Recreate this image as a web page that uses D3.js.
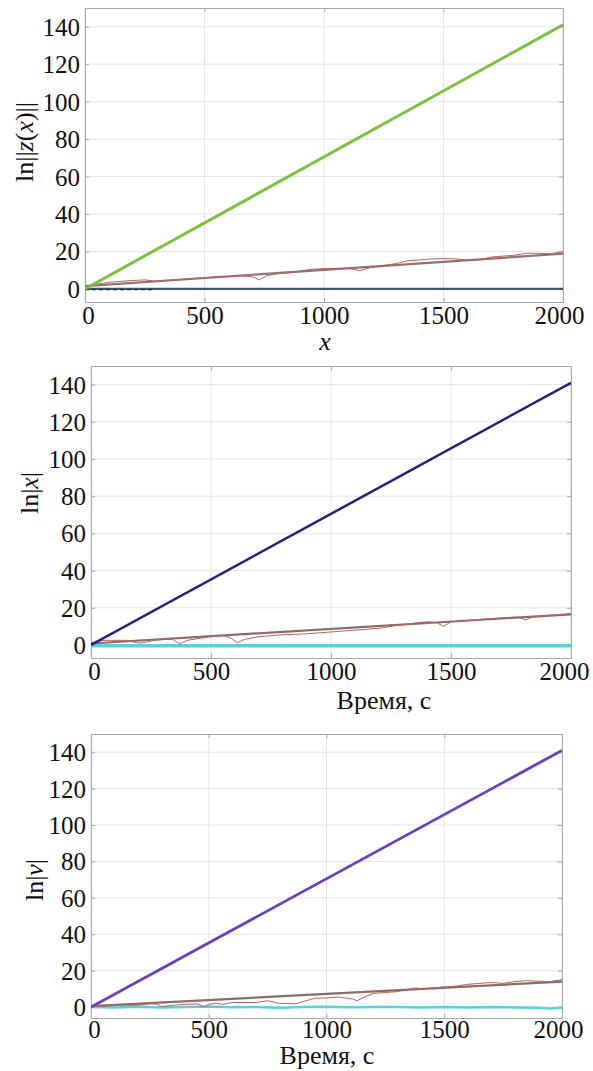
<!DOCTYPE html>
<html><head><meta charset="utf-8">
<script src="https://cdn.jsdelivr.net/npm/d3@7"></script>
<style>body{margin:0;background:#fff}svg{display:block}</style>
</head><body>
<svg id="c" width="593" height="1071"></svg>
<script>
// ---- data ----
const xTicks = [0, 500, 1000, 1500, 2000];
const yTicks = [0, 20, 40, 60, 80, 100, 120, 140];

// chart 1
const c1StraightT = [0, 2000];
const c1Green = [0, 141];
const c1Brown = [1.5, 18.8];
const c1Slate = [0, 0];
const c1DashT = [0, 290];
const c1Dash = [-0.4, -0.4];
const c1RedT = [0,50,100,150,200,250,300,350,400,450,500,550,600,650,700,730,760,800,850,900,950,1000,1050,1100,1150,1200,1250,1300,1350,1400,1450,1500,1550,1600,1650,1700,1750,1800,1850,1900,1950,2000];
const c1Red = [0.5,2.5,3.5,4,4.5,4.8,4,4.5,5,5.5,6,6.5,6.5,7,6.5,4.8,7,8,8.5,9.5,10.5,10.8,11,11,9.8,11.5,12.5,13.5,15,15.5,16,16.2,16,15.5,15.5,17,17.5,18,19,19,18.8,20];

// chart 2
const c2StraightT = [0, 2000];
const c2Indigo = [0, 141];
const c2Brown = [0.8, 16.5];
const c2Cyan = [-0.4, -0.4];
const c2RedT = [0,50,100,150,180,200,230,260,300,340,370,400,450,500,550,580,610,640,700,800,900,1000,1050,1100,1150,1200,1250,1300,1400,1440,1470,1500,1550,1600,1700,1780,1810,1840,1900,1950,2000,2010];
const c2Red = [1,2.5,2.5,2.5,1.5,1,1.5,2.5,3,3,0.5,2.5,3.5,4.5,5,4,1.2,3,4.5,5.5,6,7,7.5,8,8.5,9,10,11,12.5,12,10,12.5,13,13.5,14.5,15,13.5,15,15.8,16.2,16.8,15.5];

// chart 3
const c3StraightT = [0, 2000];
const c3Purple = [0, 141];
const c3Brown = [0.5, 14];
const c3RedT = [0,50,100,150,200,250,280,300,350,400,450,480,500,530,560,600,650,700,750,800,830,870,900,950,1000,1050,1080,1110,1130,1160,1200,1250,1300,1350,1380,1400,1500,1550,1600,1650,1700,1750,1800,1850,1900,1950,2000];
const c3Red = [0.3,0.5,0.8,1,1,1.8,1.5,0.3,1,1.5,1.8,0.2,1.5,2.2,1.5,2.5,2.5,2.5,3.5,2,2,1.8,3,4.8,5,5.5,5,4.5,3.5,5.5,7.5,8,8.5,9.8,10.5,10,11,11.5,12.5,13,13.5,13,14,14.5,14.2,14,15];
const c3CyanT = [0,100,200,300,400,500,600,700,800,900,1000,1100,1200,1300,1400,1500,1600,1700,1800,1900,1950,2000];
const c3Cyan = [0,-0.3,0.2,-0.2,0,0.3,-0.1,0.1,-0.4,0,0.2,-0.1,0.1,0,-0.2,0.1,-0.3,0,-0.2,-0.4,-0.8,-0.2];

// ---- drawing ----
const svg = d3.select("#c");

function zip(t, v){ return t.map((d,i)=>[d, v[i]]); }

function chart(cfg){
  const x = d3.scaleLinear().domain([0,2000]).range([cfg.l, cfg.r]);
  const y = d3.scaleLinear().domain(cfg.yd).range([cfg.b, cfg.t]);
  const g = svg.append("g");
  g.selectAll(null).data(xTicks).join("line")
    .attr("x1", d=>x(d)).attr("x2", d=>x(d)).attr("y1", cfg.t).attr("y2", cfg.b)
    .attr("stroke", "#e4e4e4").attr("stroke-width", 1);
  g.selectAll(null).data(yTicks).join("line")
    .attr("y1", d=>y(d)).attr("y2", d=>y(d)).attr("x1", cfg.l).attr("x2", cfg.r)
    .attr("stroke", "#e4e4e4").attr("stroke-width", 1);
  const ax = d3.axisBottom(x).tickValues(xTicks).tickSize(-4).tickFormat(d=>d).tickPadding(cfg.xpad);
  const ay = d3.axisLeft(y).tickValues(yTicks).tickSize(-4).tickFormat(d=>d).tickPadding(5);
  const axT = d3.axisTop(x).tickValues(xTicks).tickSize(-4).tickFormat("");
  const ayR = d3.axisRight(y).tickValues(yTicks).tickSize(-4).tickFormat("");
  const gx = g.append("g").attr("transform", `translate(0,${cfg.b})`).call(ax);
  const gy = g.append("g").attr("transform", `translate(${cfg.l},0)`).call(ay);
  const gxt = g.append("g").attr("transform", `translate(0,${cfg.t})`).call(axT);
  const gyr = g.append("g").attr("transform", `translate(${cfg.r},0)`).call(ayR);
  [gx,gy,gxt,gyr].forEach(a=>{
    a.attr("font-family", "Liberation Serif").attr("font-size", 25);
    a.select(".domain").attr("stroke","#a8a8a8");
    a.selectAll(".tick line").attr("stroke","#a8a8a8");
    a.selectAll("text").attr("fill","#111");
  });
  gx.selectAll("text").attr("dy", "0.72em")
    .attr("dx", d => d === 0 ? 3 : (d === 2000 ? cfg.lastDx : 0));
  gy.selectAll("text").attr("dy", "0.34em");
  const line = d3.line().x(d=>x(d[0])).y(d=>y(d[1]));
  const clipId = "clip" + cfg.id;
  svg.append("clipPath").attr("id", clipId).append("rect")
    .attr("x", cfg.l).attr("y", cfg.t).attr("width", cfg.r-cfg.l).attr("height", cfg.b-cfg.t);
  const lg = g.append("g").attr("clip-path", `url(#${clipId})`);
  cfg.series.forEach(s=>{
    lg.append("path").datum(zip(s.t, s.v)).attr("d", line)
      .attr("fill","none").attr("stroke", s.c).attr("stroke-width", s.w)
      .attr("stroke-dasharray", s.dash || null).attr("stroke-linejoin","round");
  });
  g.append("text").attr("x", cfg.xl[0]).attr("y", cfg.xl[1]).attr("text-anchor","middle")
    .attr("font-family", "Liberation Serif").attr("font-size", 26).attr("fill","#111")
    .attr("font-style", cfg.xlItalic ? "italic" : "normal").text(cfg.xlabel);
  const yl = g.append("text").attr("transform", `translate(${cfg.yl[0]},${cfg.yl[1]}) rotate(-90)`)
    .attr("text-anchor","middle").attr("font-family", "Liberation Serif").attr("font-size", 26).attr("fill","#111");
  cfg.ylabel.forEach(p=>{ yl.append("tspan").attr("font-style", p[1] ? "italic" : "normal").text(p[0]); });
}

chart({id:1, l:85, r:563, t:8, b:302, yd:[-7,150], xpad:4, lastDx:-4,
  xl:[325,350], xlabel:"x", xlItalic:true,
  yl:[33,142], ylabel:[["ln||",0],["z",1],["(",0],["x",1],[")||",0]],
  series:[
    {t:c1StraightT, v:c1Slate, c:"#3c566c", w:2.2},
    {t:c1DashT, v:c1Dash, c:"#1e2c3a", w:1.2, dash:"4,3"},
    {t:c1StraightT, v:c1Brown, c:"#8f7470", w:2.2},
    {t:c1RedT, v:c1Red, c:"#c0605c", w:1},
    {t:c1StraightT, v:c1Green, c:"#7bc33f", w:3}
  ]});

chart({id:2, l:91, r:571, t:366, b:658, yd:[-7,150], xpad:4, lastDx:-7,
  xl:[384,709], xlabel:"Время, с",
  yl:[38,493], ylabel:[["ln|",0],["x",1],["|",0]],
  series:[
    {t:c2StraightT, v:c2Cyan, c:"#5ccfdb", w:3.5},
    {t:c2StraightT, v:c2Brown, c:"#8a6c68", w:2.2},
    {t:c2RedT, v:c2Red, c:"#c0605c", w:1},
    {t:c2StraightT, v:c2Indigo, c:"#2e1b7c", w:2.5}
  ]});

chart({id:3, l:91, r:562, t:734, b:1018, yd:[-6,150], xpad:2, lastDx:-4,
  xl:[327,1064], xlabel:"Время, с",
  yl:[43,880], ylabel:[["ln|",0],["ν",1],["|",0]],
  series:[
    {t:c3CyanT, v:c3Cyan, c:"#5ccfdb", w:2.5},
    {t:c3StraightT, v:c3Brown, c:"#8a6c68", w:2.2},
    {t:c3RedT, v:c3Red, c:"#c0605c", w:1},
    {t:c3StraightT, v:c3Purple, c:"#6a3dc4", w:2.8}
  ]});
</script>
</body></html>
